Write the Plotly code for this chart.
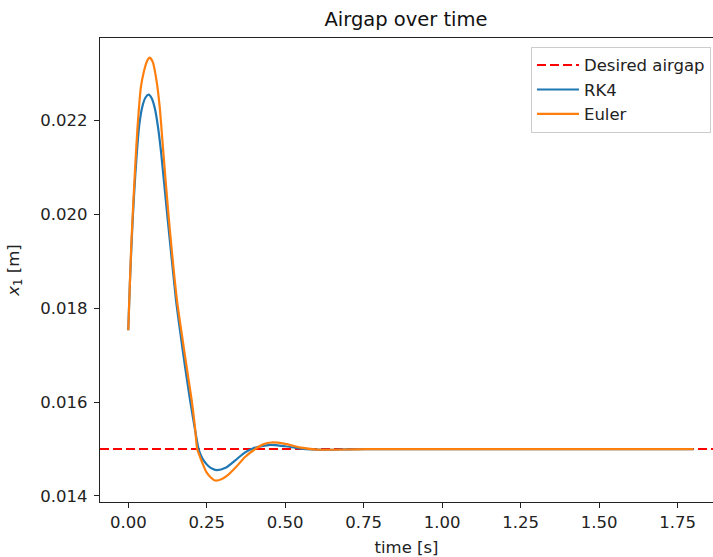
import plotly.graph_objects as go

# ---- data ----
t_rk4 = [0.000, 0.005, 0.010, 0.015, 0.022, 0.035, 0.045, 0.055, 0.065, 0.075, 0.085,
         0.095, 0.105, 0.124, 0.152, 0.166, 0.181, 0.197, 0.213, 0.224, 0.232, 0.240, 0.255, 0.268, 0.283,
         0.310, 0.341, 0.372, 0.400, 0.452, 0.500, 0.550, 0.620, 0.700, 0.800, 1.000, 1.400, 1.800]
x_rk4 = [0.01753, 0.0185, 0.0193, 0.0200, 0.0208, 0.0219, 0.02230, 0.02249, 0.02255, 0.02247, 0.02225,
         0.02185, 0.02130, 0.0200, 0.01818, 0.01747, 0.01675, 0.01604, 0.0154, 0.0150, 0.01486, 0.01476, 0.01464, 0.01458, 0.01455,
         0.01460, 0.01476, 0.01493, 0.01502, 0.01509, 0.01506, 0.01501, 0.014985, 0.014995, 0.01500, 0.01500, 0.01500, 0.01500]

t_euler = [0.000, 0.005, 0.010, 0.015, 0.022, 0.029, 0.040, 0.050, 0.060, 0.068, 0.078, 0.090,
           0.100, 0.112, 0.128, 0.155, 0.170, 0.186, 0.202, 0.212, 0.2195, 0.227, 0.235, 0.248, 0.262, 0.277,
           0.300, 0.320, 0.341, 0.372, 0.400, 0.430, 0.457, 0.500, 0.550, 0.600, 0.650, 0.720, 0.800, 1.000, 1.400, 1.800]
x_euler = [0.01753, 0.0185, 0.0194, 0.0201, 0.0210, 0.0218, 0.0227, 0.02305, 0.02327, 0.02334, 0.02325, 0.02285,
           0.02230, 0.02130, 0.0200, 0.01818, 0.01747, 0.01675, 0.01604, 0.0155, 0.0150, 0.01486, 0.01472, 0.01452, 0.01440, 0.01433,
           0.01437, 0.01446, 0.01460, 0.01483, 0.01498, 0.01510, 0.01514, 0.01511, 0.01503, 0.01499, 0.014985, 0.014995, 0.01500, 0.01500, 0.01500, 0.01500]

desired_airgap = 0.015
x_range = [-0.09, 1.8625]
y_range = [0.013872, 0.023758]
x_ticks = [0.0, 0.25, 0.5, 0.75, 1.0, 1.25, 1.5, 1.75]
y_ticks = [0.014, 0.016, 0.018, 0.020, 0.022]

FONT = "DejaVu Sans"
FS = 16.5

fig = go.Figure()
fig.add_trace(go.Scatter(x=[x_range[0], 1.89], y=[desired_airgap, desired_airgap],
                         mode="lines", name="Desired airgap",
                         line=dict(color="red", width=2, dash="9px,4px")))
fig.add_trace(go.Scatter(x=t_rk4, y=x_rk4, mode="lines", name="RK4",
                         line=dict(color="#1f77b4", width=2.2, shape="spline", smoothing=0.6)))
fig.add_trace(go.Scatter(x=t_euler, y=x_euler, mode="lines", name="Euler",
                         line=dict(color="#ff7f0e", width=2.2, shape="spline", smoothing=0.6)))

axis_common = dict(showgrid=False, zeroline=False, showline=True, linecolor="#222", linewidth=1.3,
                   ticks="outside", ticklen=5, tickwidth=1.3, tickcolor="#222", automargin=False,
                   tickfont=dict(family=FONT, size=FS, color="#222"))

fig.update_xaxes(range=x_range, tickvals=x_ticks, ticktext=[f"{v:.2f}" for v in x_ticks],
                 mirror=True,
                 title=dict(text="time [s]", font=dict(family=FONT, size=FS, color="#222"), standoff=10),
                 **axis_common)
fig.update_yaxes(range=y_range, tickvals=y_ticks, ticktext=[f"{v:.3f}" for v in y_ticks],
                 mirror=False, ticklabelstandoff=3,
                 title=dict(text="<i>x</i><sub>1</sub> [m]", font=dict(family=FONT, size=FS, color="#222"), standoff=16),
                 **axis_common)

fig.update_layout(
    width=713, height=557,
    margin=dict(l=100, r=0, t=38, b=55),
    plot_bgcolor="white", paper_bgcolor="white",
    title=dict(text="Airgap over time", x=406 / 713, xref="container", xanchor="center",
               y=1 - 19 / 557, yanchor="middle", font=dict(family=FONT, size=19.5, color="#111")),
    legend=dict(x=0.9967, y=0.981, xanchor="right", yanchor="top",
                bgcolor="rgba(255,255,255,0.8)", bordercolor="#cccccc", borderwidth=1,
                font=dict(family=FONT, size=FS, color="#222"), itemwidth=42, tracegroupgap=0),
    showlegend=True,
)

fig.write_html("out.html")
